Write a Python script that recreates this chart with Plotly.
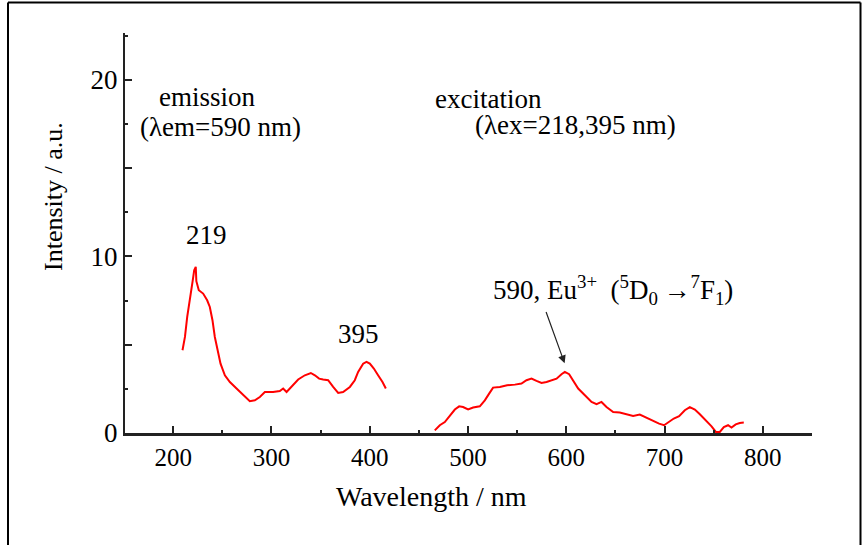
import plotly.graph_objects as go

# Excitation spectrum (left curve, monitored at 590 nm)
exc_wl = [209.5, 212, 214.3, 217, 219.7, 221.4, 223, 223.6, 226.1, 230.5, 234.6, 237.3, 240, 242.4,
          245.1, 248.2, 252.6, 257.7, 264.5, 271.2, 278, 283.1, 288.2, 293.3, 301.7, 308.5, 311.9,
          315.4, 320.4, 327.2, 334, 340.1, 344.2, 348.5, 352.6, 357.7, 362.8, 367.9, 372.9, 379.8,
          384.8, 388.2, 393.3, 396.7, 400.1, 404.2, 408.5, 413, 416.4]
exc_int = [4.69, 5.44, 6.58, 7.71, 8.56, 9.22, 9.41, 8.6, 8.09, 7.9, 7.52, 7.14, 6.39, 5.44,
           4.69, 3.93, 3.27, 2.89, 2.52, 2.14, 1.80, 1.85, 2.04, 2.32, 2.32, 2.38, 2.52,
           2.32, 2.61, 3.03, 3.27, 3.40, 3.27, 3.08, 3.03, 2.99, 2.61, 2.27, 2.32, 2.61,
           2.99, 3.46, 3.93, 4.03, 3.93, 3.65, 3.27, 2.89, 2.52]

# Emission spectrum (right curve, excited at 218/395 nm)
em_wl = [466.2, 471.3, 476.4, 481.5, 486.6, 491, 495, 500.1, 505.2, 512, 517.1, 521.5, 525.5,
         532.4, 539.8, 547.7, 554.4, 559.5, 564.6, 569.7, 574.8, 579.9, 585, 590.1, 595.1, 598.5,
         602.9, 607, 612.1, 618.9, 625.7, 630.8, 635.8, 640.9, 647.7, 654.4, 661.2, 668, 674.8,
         681.6, 688.3, 694.4, 699.5, 703.6, 709.4, 714.8, 720.6, 725.7, 730.8, 735.9, 742, 747.8,
         752.2, 756.2, 760.3, 764.6, 768.1, 772.4, 776.5, 780.6]
em_int = [0.15, 0.44, 0.62, 1.0, 1.33, 1.51, 1.47, 1.33, 1.44, 1.51, 1.85, 2.23, 2.57,
          2.61, 2.70, 2.74, 2.80, 2.99, 3.08, 2.95, 2.83, 2.89, 2.99, 3.08, 3.33, 3.46,
          3.33, 2.95, 2.52, 2.14, 1.76, 1.63, 1.76, 1.47, 1.19, 1.16, 1.04, 0.96, 1.04,
          0.85, 0.66, 0.53, 0.44, 0.62, 0.82, 0.95, 1.29, 1.47, 1.33, 1.06, 0.72, 0.38,
          0.06, 0.06, 0.34, 0.44, 0.31, 0.49, 0.57, 0.59]

x_ticks = [200, 300, 400, 500, 600, 700, 800]
y_ticks = [0, 5, 10, 15, 20]
y_ticktext = ["0", "", "10", "", "20"]

FONT = "Liberation Serif"
RED = "#ff0000"
INK = "#000000"

fig = go.Figure()
fig.add_trace(go.Scatter(x=exc_wl, y=exc_int, mode="lines",
                         line=dict(color=RED, width=2), showlegend=False))
fig.add_trace(go.Scatter(x=em_wl, y=em_int, mode="lines",
                         line=dict(color=RED, width=2), showlegend=False))

L, R, T, B = 125, 51, 33, 112
W, H = 863, 545
PW, PH = W - L - R, H - T - B

def px(xp):
    return (xp - L) / PW

def py(yp):
    return (H - B - yp) / PH

fig.update_layout(
    width=W, height=H,
    margin=dict(l=L, r=R, t=T, b=B),
    paper_bgcolor="white", plot_bgcolor="white",
    font=dict(family=FONT, color=INK),
    xaxis=dict(range=[151, 850], tickvals=x_ticks, ticks="inside", ticklen=7,
               tickwidth=2, tickcolor="#222", showline=True, linewidth=3, linecolor="#222",
               showgrid=False, zeroline=False, tickfont=dict(size=25, family=FONT, color=INK),
               minor=dict(ticks="inside", ticklen=3, tickwidth=2, tickcolor="#222", dtick=50,
                          tick0=150, showgrid=False)),
    yaxis=dict(range=[0, 22.66], tickvals=y_ticks, ticktext=y_ticktext, ticks="inside",
               ticklen=7, tickwidth=2, tickcolor="#222", showline=True, linewidth=2,
               linecolor="#222", showgrid=False, zeroline=False,
               tickfont=dict(size=27, family=FONT, color=INK),
               minor=dict(ticks="inside", ticklen=3, tickwidth=2, tickcolor="#222", dtick=2.5,
                          tick0=0, showgrid=False)),
)

ann = []
tf = dict(family=FONT, size=27, color=INK)
ann.append(dict(text="Wavelength / nm", xref="paper", yref="paper", x=px(431), y=py(497),
                showarrow=False, font=dict(family=FONT, size=28, color=INK),
                xanchor="center", yanchor="middle"))
ann.append(dict(text="Intensity / a.u.", xref="paper", yref="paper", x=px(53), y=py(197),
                showarrow=False, textangle=-90, font=dict(family=FONT, size=26, color=INK),
                xanchor="center", yanchor="middle"))
ann.append(dict(text="emission", x=183.1, y=19.03, xanchor="left", yanchor="middle",
                showarrow=False, font=tf))
ann.append(dict(text="(λem=590\u00a0nm)", x=164.1, y=17.33, xanchor="left", yanchor="middle",
                showarrow=False, font=tf))
ann.append(dict(text="excitation", x=464.2, y=18.92, xanchor="left", yanchor="middle",
                showarrow=False, font=tf))
ann.append(dict(text="(λex=218,395 nm)", x=504.9, y=17.44, xanchor="left", yanchor="middle",
                showarrow=False, font=tf))
ann.append(dict(text="219", x=234.3, y=11.2, showarrow=False, font=tf))
ann.append(dict(text="395", x=388.9, y=5.6, showarrow=False, font=tf))
ann.append(dict(text="590, Eu<sup>3+</sup>\u00a0 (<sup>5</sup>D<sub>0</sub>\u2009→<sup>7</sup>F<sub>1</sub>)",
                x=647.3, y=8.09, showarrow=False, font=tf))
ann.append(dict(text="", x=598.3, y=3.95, ax=578.9, ay=6.94, axref="x", ayref="y",
                showarrow=True, arrowhead=2, arrowsize=1.3, arrowwidth=1.2, arrowcolor="#222"))
fig.update_layout(annotations=ann)

# outer frame of the picture
frame = dict(type="line", xref="paper", yref="paper", line=dict(color="black", width=2))
fig.update_layout(shapes=[
    dict(frame, x0=px(8), x1=px(8), y0=py(560), y1=py(2.5)),
    dict(frame, x0=px(8), x1=px(860.5), y0=py(2.5), y1=py(2.5)),
    dict(frame, x0=px(860.5), x1=px(860.5), y0=py(2.5), y1=py(560)),
])

fig.write_html("out.html")
